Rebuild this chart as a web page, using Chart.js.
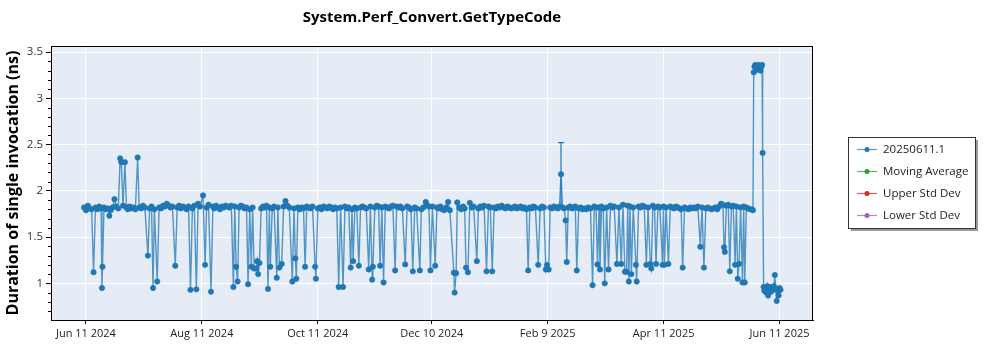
<!DOCTYPE html>
<html>
<head>
<meta charset="utf-8">
<title>System.Perf_Convert.GetTypeCode</title>
<script src="https://cdn.jsdelivr.net/npm/chart.js@4.4.1/dist/chart.umd.min.js"></script>
<style>
  html, body { margin: 0; padding: 0; background: #fff; }
  #wrap { width: 1000px; height: 350px; }
</style>
</head>
<body>
<div id="wrap"><canvas id="perf"></canvas></div>
<script>
// run day = days after Jun 11 2024
var runDays = [
    -1, 0, 1, 2, 3, 4, 5, 6, 7, 8,
    8.4, 8.7, 9.5, 10.5, 11.5, 12.3, 13, 14, 15, 16,
    17, 18, 18.6, 19.5, 20.5, 21.3, 22, 23, 24, 25,
    26, 27.2, 28, 29, 30, 31, 32.6, 33.5, 34.5, 35.3,
    36, 37.5, 38.5, 39.5, 40.5, 41.5, 42.5, 43.5, 44.5, 45.5,
    47, 48, 49, 50, 51, 52, 53, 54, 55, 56,
    57, 58.1, 59, 60, 61.6, 62.7, 63.5, 64.5, 65.8, 66.8,
    67.5, 68.5, 69.5, 70.5, 71.5, 72.5, 73.5, 74.5, 75.5, 76.5,
    77.6, 78.3, 79, 79.8, 80.6, 81.5, 82.5, 83.5, 84.5, 85.3,
    86.2, 87, 87.7, 88.5, 89.6, 90.1, 90.6, 91.3, 92.2, 93.2,
    94.2, 95, 95.8, 96.5, 97, 98, 99, 100.4, 101, 101.8,
    103, 104, 105, 106, 107, 108.6, 109.5, 110.2, 110.7, 111.5,
    112.5, 113.5, 114.5, 115.3, 116.2, 117.2, 118.2, 119.2, 120.6, 121,
    122, 123, 124, 125, 126, 127, 128, 129, 130, 131,
    132, 133, 134, 135.3, 136.3, 137.3, 138.3, 139.3, 140, 140.6,
    141.5, 142.5, 143.6, 144.5, 145.5, 146.5, 147.5, 148.8, 149.7, 150.6,
    151, 152, 153, 154, 154.8, 155.7, 156.6, 157.5, 158.5, 159.5,
    160.5, 161.5, 162.7, 163.5, 164.5, 165.5, 166.5, 168, 169, 170,
    171, 172, 173, 174, 175.7, 176.5, 177.5, 178.8, 179.8, 180.5,
    181.3, 182.3, 183.8, 184.7, 185.5, 186.5, 187.5, 188.5, 189.5, 190.6,
    191.5, 193.6, 194, 194.8, 195.4, 196.5, 197.5, 198.5, 199.3, 200,
    201, 202, 203, 204, 205.7, 206.5, 207.5, 208.5, 209.5, 210.8,
    211.8, 212.8, 213.8, 214.8, 215.8, 216.8, 217.8, 218.8, 219.8, 220.8,
    221.8, 222.8, 223.8, 224.8, 225.8, 226.8, 227.8, 228.8, 229.8, 230.8,
    231.8, 232.7, 233.6, 234.5, 235.5, 236.5, 238, 239, 240, 241,
    242, 242.6, 243.5, 244.3, 245.3, 246.3, 247.3, 248.3, 249.2, 250,
    250.8, 251.6, 252.4, 253, 253.8, 254.8, 255.8, 256.8, 257.5, 258.3,
    259.3, 260.3, 261.3, 262.3, 263.3, 264.3, 265.5, 266.6, 267.5, 268.4,
    269.2, 270, 270.5, 271.3, 272.2, 273, 274, 275, 276, 277,
    278, 279.4, 280.5, 281.7, 282.6, 283.6, 284.5, 285.1, 285.7, 286.3,
    287, 288, 289.4, 289.8, 290.8, 291.8, 292.8, 293.8, 294.9, 295.8,
    297, 297.5, 298.3, 299.2, 300, 301, 302, 303.4, 303.9, 304.4,
    305.3, 306.5, 307.5, 308.5, 309.5, 310.5, 311.5, 312.5, 313.2, 314,
    315, 316, 317, 318, 319, 320, 321, 322, 323.3, 324.2,
    325.2, 326.2, 327.2, 328.2, 329.2, 330.2, 331.2, 332.2, 333.2, 334.2,
    335.2, 335.8, 336.2, 337, 338, 338.8, 339.7, 340.6, 341.6, 342.3,
    343, 343.7, 344.5, 345.5, 346.1, 346.7, 347.5, 348.5, 349.5, 350.5,
    351, 351.4, 351.8, 352.2, 352.6, 353, 353.4, 353.8, 354.2, 354.6,
    355, 355.4, 355.8, 356.1, 356.6, 357, 357.5, 358, 358.5, 359,
    359.5, 360, 360.5, 361, 361.5, 362, 362.5, 363, 363.5, 364,
    364.5, 365, 365.5
];

// duration of single invocation (ns)
var durations = [
    1.82, 1.79, 1.84, 1.81, 1.80, 1.12, 1.82, 1.80, 1.83, 1.81,
    0.95, 1.18, 1.82, 1.80, 1.81, 1.73, 1.79, 1.82, 1.91, 1.83,
    1.81, 2.35, 2.31, 1.84, 2.31, 1.82, 1.80, 1.83, 1.81, 1.82,
    1.80, 2.36, 1.82, 1.81, 1.84, 1.82, 1.30, 1.81, 1.83, 0.95,
    1.80, 1.02, 1.82, 1.81, 1.84, 1.83, 1.86, 1.84, 1.82, 1.83,
    1.19, 1.82, 1.84, 1.81, 1.83, 1.82, 1.80, 1.83, 0.93, 1.81,
    1.84, 0.935, 1.86, 1.83, 1.95, 1.20, 1.82, 1.85, 0.91, 1.83,
    1.81, 1.84, 1.82, 1.80, 1.83, 1.82, 1.84, 1.83, 1.82, 1.84,
    0.96, 1.83, 1.18, 1.02, 1.82, 1.84, 1.83, 1.81, 1.82, 0.99,
    1.80, 1.18, 1.82, 1.16, 1.16, 1.24, 1.10, 1.22, 1.81, 1.83,
    1.82, 1.84, 0.94, 1.82, 1.18, 1.81, 1.83, 1.06, 1.82, 1.17,
    1.21, 1.83, 1.89, 1.84, 1.82, 1.02, 1.81, 1.27, 1.05, 1.82,
    1.80, 1.82, 1.81, 1.18, 1.83, 1.82, 1.81, 1.83, 1.18, 1.05,
    1.81, 1.82, 1.80, 1.83, 1.82, 1.81, 1.83, 1.82, 1.80, 1.82,
    1.81, 0.96, 1.82, 0.96, 1.83, 1.81, 1.82, 1.17, 1.80, 1.24,
    1.82, 1.81, 1.19, 1.82, 1.83, 1.82, 1.81, 1.15, 1.83, 1.04,
    1.18, 1.82, 1.84, 1.83, 1.19, 1.82, 1.01, 1.83, 1.82, 1.81,
    1.83, 1.84, 1.14, 1.83, 1.82, 1.83, 1.81, 1.205, 1.83, 1.82,
    1.80, 1.13, 1.82, 1.81, 1.14, 1.80, 1.82, 1.88, 1.84, 1.83,
    1.14, 1.83, 1.19, 1.82, 1.81, 1.83, 1.80, 1.79, 1.82, 1.88,
    1.79, 1.115, 0.90, 1.11, 1.875, 1.82, 1.80, 1.83, 1.81, 1.17,
    1.12, 1.87, 1.82, 1.83, 1.24, 1.81, 1.83, 1.82, 1.84, 1.13,
    1.83, 1.82, 1.13, 1.82, 1.81, 1.83, 1.82, 1.84, 1.82, 1.81,
    1.83, 1.82, 1.81, 1.82, 1.83, 1.81, 1.82, 1.83, 1.81, 1.82,
    1.80, 1.14, 1.82, 1.81, 1.83, 1.82, 1.20, 1.81, 1.83, 1.82,
    1.15, 1.20, 1.15, 1.82, 1.81, 1.83, 1.82, 1.81, 1.83, 2.18,
    1.82, 1.81, 1.68, 1.23, 1.82, 1.83, 1.81, 1.82, 1.83, 1.14,
    1.81, 1.82, 1.80, 1.81, 1.80, 1.82, 1.81, 0.98, 1.83, 1.82,
    1.205, 1.82, 1.15, 1.83, 1.81, 1.00, 1.82, 1.15, 1.84, 1.82,
    1.83, 1.21, 1.82, 1.21, 1.85, 1.125, 1.125, 1.84, 1.02, 1.83,
    1.10, 1.82, 1.20, 1.02, 1.83, 1.82, 1.84, 1.83, 1.20, 1.82,
    1.21, 1.16, 1.84, 1.82, 1.21, 1.83, 1.82, 1.20, 1.83, 1.20,
    1.82, 1.21, 1.83, 1.82, 1.81, 1.83, 1.82, 1.81, 1.80, 1.17,
    1.82, 1.81, 1.80, 1.82, 1.81, 1.82, 1.81, 1.83, 1.395, 1.82,
    1.17, 1.81, 1.82, 1.81, 1.80, 1.81, 1.82, 1.80, 1.83, 1.86,
    1.85, 1.39, 1.34, 1.84, 1.85, 1.13, 1.83, 1.84, 1.20, 1.83,
    1.05, 1.21, 1.82, 1.01, 1.83, 1.01, 1.82, 1.81, 1.80, 1.80,
    1.79, 3.28, 3.34, 3.36, 3.32, 3.35, 3.31, 3.36, 3.33, 3.35,
    3.30, 3.34, 3.36, 2.41, 0.96, 0.92, 0.95, 0.90, 0.97, 0.87,
    0.94, 0.96, 0.91, 0.95, 0.93, 0.97, 1.09, 0.94, 0.81, 0.92,
    0.87, 0.95, 0.93
];

// the one run that reported an error bar
var errDays = [250];
var errLow = [1.84];
var errHigh = [2.52];

var xTickDays = [0, 61, 122, 182, 243, 304, 365];
var xTickLabels = ['Jun 11 2024', 'Aug 11 2024', 'Oct 11 2024', 'Dec 10 2024', 'Feb 9 2025', 'Apr 11 2025', 'Jun 11 2025'];
var yTicks = [1, 1.5, 2, 2.5, 3, 3.5];

var seriesNames = ['20250611.1', 'Moving Average', 'Upper Std Dev', 'Lower Std Dev'];
var seriesColors = ['#1f77b4', '#2ca02c', '#d62728', '#9467bd'];

var chartTitle = 'System.Perf_Convert.GetTypeCode';
var FONT = "'Open Sans', 'Noto Sans', sans-serif";

var points = runDays.map(function (d, i) { return { x: d, y: durations[i] }; });

// plot background, frame, title and minor ticks on y
const plotFrame = {
    id: 'plotFrame',
    beforeDraw(chart) {
        const a = chart.chartArea, ctx = chart.ctx;
        ctx.save();
        ctx.fillStyle = '#e5ecf6';
        ctx.fillRect(a.left, a.top, a.right - a.left, a.bottom - a.top);
        ctx.restore();
    },
    afterDraw(chart) {
        const a = chart.chartArea, ctx = chart.ctx, y = chart.scales.y;
        ctx.save();
        ctx.strokeStyle = '#000';
        ctx.lineWidth = 1;
        ctx.strokeRect(Math.round(a.left) + 0.5, Math.round(a.top) + 0.5,
            Math.round(a.right - a.left) - 1, Math.round(a.bottom - a.top));
        ctx.beginPath();
        for (let v = 0.7; v < 3.56; v += 0.1) {
            const r = Math.round(v * 10) / 10;
            if (Math.abs(r * 2 - Math.round(r * 2)) < 1e-6) continue;
            const py = Math.round(y.getPixelForValue(r)) + 0.5;
            ctx.moveTo(a.left, py);
            ctx.lineTo(a.left - 3, py);
        }
        ctx.stroke();

        ctx.fillStyle = '#000';
        ctx.font = 'bold 15px ' + FONT;
        ctx.textAlign = 'center';
        ctx.textBaseline = 'middle';
        ctx.fillText(chartTitle, (a.left + a.right) / 2, 18);
        ctx.restore();
    }
};

const errorBars = {
    id: 'errorBars',
    afterDatasetsDraw(chart) {
        const ctx = chart.ctx, xs = chart.scales.x, ys = chart.scales.y;
        ctx.save();
        ctx.strokeStyle = seriesColors[0];
        ctx.lineWidth = 1.2;
        errDays.forEach(function (d, i) {
            const px = xs.getPixelForValue(d);
            const top = ys.getPixelForValue(errHigh[i]);
            const bot = ys.getPixelForValue(errLow[i]);
            ctx.beginPath();
            ctx.moveTo(px, top); ctx.lineTo(px, bot);
            ctx.moveTo(px - 3, top); ctx.lineTo(px + 3, top);
            ctx.moveTo(px - 3, bot); ctx.lineTo(px + 3, bot);
            ctx.stroke();
        });
        ctx.restore();
    }
};

// boxed legend to the right of the plot
const legendBox = {
    id: 'legendBox',
    afterDraw(chart) {
        const ctx = chart.ctx;
        const bx = 848, by = 137, bw = 127, bh = 91;
        ctx.save();
        ctx.fillStyle = '#9a9a9a';
        ctx.fillRect(bx + 3, by + 3, bw, bh);
        ctx.fillStyle = '#fff';
        ctx.fillRect(bx, by, bw, bh);
        ctx.strokeStyle = '#333';
        ctx.lineWidth = 1;
        ctx.strokeRect(bx + 0.5, by + 0.5, bw, bh);
        ctx.font = '11.5px ' + FONT;
        ctx.textBaseline = 'middle';
        chart.data.datasets.forEach(function (ds, i) {
            const cy = by + 12.5 + i * 22;
            ctx.strokeStyle = ds.borderColor;
            ctx.fillStyle = ds.pointBackgroundColor;
            ctx.lineWidth = 1.2;
            ctx.beginPath();
            ctx.moveTo(bx + 9, cy); ctx.lineTo(bx + 29, cy);
            ctx.stroke();
            ctx.beginPath();
            ctx.arc(bx + 19, cy, 2.5, 0, Math.PI * 2);
            ctx.fill();
            ctx.fillStyle = '#222';
            ctx.fillText(ds.label, bx + 35, cy);
        });
        ctx.restore();
    }
};

function rgba(hex, a) {
    const n = parseInt(hex.slice(1), 16);
    return 'rgba(' + (n >> 16) + ',' + ((n >> 8) & 255) + ',' + (n & 255) + ',' + a + ')';
}

const datasets = seriesNames.map(function (name, i) {
    return {
        label: name,
        data: i === 0 ? points : [],
        borderColor: rgba(seriesColors[i], 0.75),
        pointBackgroundColor: seriesColors[i],
        pointBorderColor: seriesColors[i],
        borderWidth: 1.4,
        pointRadius: 2.7,
        pointBorderWidth: 0.6,
        tension: 0
    };
});

new Chart(document.getElementById('perf'), {
    type: 'line',
    data: { datasets: datasets },
    plugins: [plotFrame, errorBars, legendBox],
    options: {
        responsive: true,
        maintainAspectRatio: false,
        animation: false,
        devicePixelRatio: 1,
        layout: { padding: { left: 4, right: 187, top: 46, bottom: 0 } },
        plugins: {
            legend: { display: false },
            tooltip: { enabled: false },
            title: { display: false }
        },
        scales: {
            x: {
                type: 'linear',
                min: -18.4,
                max: 382.6,
                afterBuildTicks: function (scale) {
                    scale.ticks = xTickDays.map(function (v) { return { value: v }; });
                },
                afterFit: function (scale) { scale.height = 30; },
                ticks: {
                    autoSkip: false,
                    maxRotation: 0,
                    padding: 3,
                    color: '#222',
                    font: { family: FONT, size: 11 },
                    callback: function (v) { return xTickLabels[xTickDays.indexOf(v)]; }
                },
                grid: { color: '#fff', lineWidth: 1, tickColor: '#000', tickLength: 4 },
                border: { color: '#000', width: 1 }
            },
            y: {
                type: 'linear',
                min: 0.604,
                max: 3.565,
                afterBuildTicks: function (scale) {
                    scale.ticks = yTicks.map(function (v) { return { value: v }; });
                },
                afterFit: function (scale) { scale.width = 47; },
                ticks: {
                    padding: 3,
                    color: '#333',
                    font: { family: FONT, size: 11.5 },
                    callback: function (v) { return String(v); }
                },
                title: {
                    display: true,
                    text: 'Duration of single invocation (ns)',
                    color: '#000',
                    font: { family: FONT, size: 16, weight: 'bold' },
                    padding: { top: 0, bottom: 2 }
                },
                grid: { color: '#fff', lineWidth: 1, tickColor: '#000', tickLength: 5 },
                border: { color: '#000', width: 1 }
            }
        }
    }
});
</script>
</body>
</html>
